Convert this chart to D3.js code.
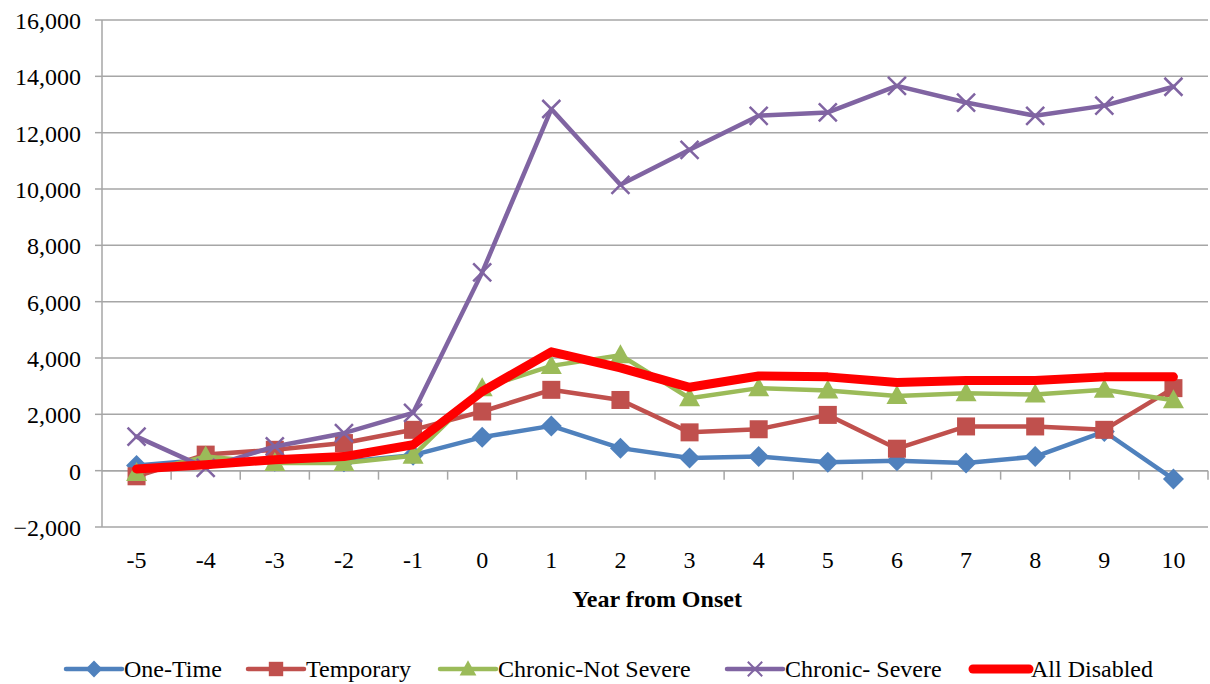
<!DOCTYPE html>
<html>
<head>
<meta charset="utf-8">
<script src="https://cdn.jsdelivr.net/npm/d3@7"></script>
<style>
  html, body { margin: 0; padding: 0; background: #fff; }
</style>
</head>
<body>
<div id="chart"></div>
<script>
// Years relative to disability onset
const years = [-5, -4, -3, -2, -1, 0, 1, 2, 3, 4, 5, 6, 7, 8, 9, 10];
const yTicks = [-2000, 0, 2000, 4000, 6000, 8000, 10000, 12000, 14000, 16000];

const oneTime = [180, 390, 330, 320, 550, 1190, 1590, 800, 450, 500, 300, 350, 270, 500, 1390, -300];
const temporary = [-200, 570, 740, 980, 1450, 2100, 2870, 2510, 1360, 1470, 1980, 780, 1570, 1570, 1450, 2930];
const chronicNotSevere = [-80, 500, 270, 270, 530, 2930, 3720, 4100, 2570, 2930, 2850, 2650, 2750, 2700, 2870, 2500];
const chronicSevere = [1210, 100, 860, 1330, 2050, 7040, 12840, 10150, 11390, 12600, 12720, 13660, 13070, 12600, 12960, 13630];
const allDisabled = [60, 210, 390, 500, 920, 2810, 4220, 3650, 2960, 3360, 3330, 3130, 3200, 3200, 3330, 3330];

const seriesNames = ['One-Time', 'Temporary', 'Chronic-Not Severe', 'Chronic- Severe', 'All Disabled'];
const seriesColors = ['#4F81BD', '#C0504D', '#9BBB59', '#8064A2', '#FF0000'];
const seriesMarkers = ['diamond', 'square', 'triangle', 'cross', 'none'];

// legend key start positions (layout only)
const legendX = [66, 248, 440, 727, 973];

const FONT = 'Liberation Serif';

const series = [oneTime, temporary, chronicNotSevere, chronicSevere, allDisabled].map((vals, i) => ({
  name: seriesNames[i],
  color: seriesColors[i],
  marker: seriesMarkers[i],
  width: i === 4 ? 9 : 4.5,
  values: vals
}));

const W = 1210, H = 684;
const plot = { left: 102, right: 1208, top: 20, bottom: 527 };

const svg = d3.select('#chart')
  .append('svg')
  .attr('width', W)
  .attr('height', H)
  .attr('font-family', FONT);

const x = d3.scaleBand()
  .domain(years)
  .range([plot.left, plot.right])
  .padding(0);

const y = d3.scaleLinear()
  .domain([-2000, 16000])
  .range([plot.bottom, plot.top]);

const cx = d => x(d) + x.bandwidth() / 2;

// gridlines
svg.append('g')
  .selectAll('line')
  .data(yTicks)
  .join('line')
  .attr('x1', plot.left)
  .attr('x2', plot.right)
  .attr('y1', d => y(d))
  .attr('y2', d => y(d))
  .attr('stroke', '#A6A6A6')
  .attr('stroke-width', 1.5);

// y axis
const yAxis = svg.append('g');
yAxis.append('line')
  .attr('x1', plot.left).attr('x2', plot.left)
  .attr('y1', plot.top).attr('y2', plot.bottom)
  .attr('stroke', '#A6A6A6').attr('stroke-width', 1.5);
yAxis.selectAll('.ytick')
  .data(yTicks)
  .join('line')
  .attr('class', 'ytick')
  .attr('x1', plot.left - 7).attr('x2', plot.left)
  .attr('y1', d => y(d)).attr('y2', d => y(d))
  .attr('stroke', '#A6A6A6').attr('stroke-width', 1.5);
yAxis.selectAll('text')
  .data(yTicks)
  .join('text')
  .attr('x', plot.left - 21)
  .attr('y', d => y(d) + 9)
  .attr('text-anchor', 'end')
  .attr('font-size', 24)
  .attr('font-family', FONT)
  .text(d3.format(','));

// x axis crosses at zero, ticks between categories
const xAxisG = svg.append('g');
xAxisG.append('line')
  .attr('x1', plot.left)
  .attr('x2', plot.right)
  .attr('y1', y(0))
  .attr('y2', y(0))
  .attr('stroke', '#A6A6A6')
  .attr('stroke-width', 1.5);
xAxisG.selectAll('.xtick')
  .data(years.slice(1).concat(['end']))
  .join('line')
  .attr('class', 'xtick')
  .attr('x1', d => d === 'end' ? plot.right : x(d))
  .attr('x2', d => d === 'end' ? plot.right : x(d))
  .attr('y1', y(0))
  .attr('y2', y(0) + 9)
  .attr('stroke', '#A6A6A6')
  .attr('stroke-width', 1.5);

// category labels sit below the plot area
svg.append('g')
  .selectAll('text')
  .data(years)
  .join('text')
  .attr('x', d => cx(d))
  .attr('y', 568)
  .attr('text-anchor', 'middle')
  .attr('font-size', 24)
  .attr('font-family', FONT)
  .text(d => d);

svg.append('text')
  .attr('x', (plot.left + plot.right) / 2 + 2)
  .attr('y', 607)
  .attr('text-anchor', 'middle')
  .attr('font-size', 24)
  .attr('font-family', FONT)
  .attr('font-weight', 'bold')
  .text('Year from Onset');

function drawMarker(g, type, color) {
  if (type === 'diamond') {
    g.append('path').attr('d', 'M0,-10.5L10.5,0L0,10.5L-10.5,0Z').attr('fill', color);
  } else if (type === 'square') {
    g.append('rect').attr('x', -9).attr('y', -9).attr('width', 18).attr('height', 18).attr('fill', color);
  } else if (type === 'triangle') {
    g.append('path').attr('d', 'M0,-11L10.5,8L-10.5,8Z').attr('fill', color);
  } else if (type === 'cross') {
    g.append('path').attr('d', 'M-9,-9L9,9M-9,9L9,-9')
      .attr('stroke', color).attr('stroke-width', 2.5).attr('fill', 'none');
  }
}

const line = d3.line()
  .x((d, i) => cx(years[i]))
  .y(d => y(d));

series.forEach(s => {
  const g = svg.append('g').attr('class', 'series');
  g.append('path')
    .datum(s.values)
    .attr('d', line)
    .attr('fill', 'none')
    .attr('stroke', s.color)
    .attr('stroke-width', s.width)
    .attr('stroke-linejoin', 'round')
    .attr('stroke-linecap', 'round');
  if (s.marker !== 'none') {
    s.values.forEach((v, i) => {
      const m = g.append('g').attr('transform', `translate(${cx(years[i])},${y(v)})`);
      drawMarker(m, s.marker, s.color);
    });
  }
});

// legend
const legend = svg.append('g').attr('transform', 'translate(0,677)');
series.forEach((s, i) => {
  const lx = legendX[i];
  const item = legend.append('g');
  item.append('line')
    .attr('x1', lx)
    .attr('x2', lx + 56)
    .attr('y1', -8)
    .attr('y2', -8)
    .attr('stroke', s.color)
    .attr('stroke-width', s.width)
    .attr('stroke-linecap', 'round');
  if (s.marker !== 'none') {
    const m = item.append('g').attr('transform', `translate(${lx + 28},-8) scale(0.8)`);
    drawMarker(m, s.marker, s.color);
  }
  item.append('text')
    .attr('x', lx + 58)
    .attr('y', 0)
    .attr('font-size', 24)
    .attr('font-family', FONT)
    .text(s.name);
});
</script>
</body>
</html>
